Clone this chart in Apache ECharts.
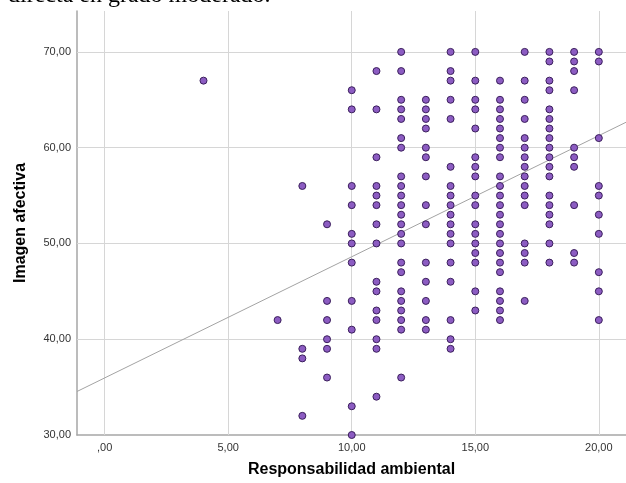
<!DOCTYPE html>
<html>
<head>
<meta charset="utf-8">
<script src="https://cdn.jsdelivr.net/npm/echarts@6/dist/echarts.min.js"></script>
<style>
  html, body { margin: 0; padding: 0; background: #fff; }
  #chart { width: 626px; height: 483px; }
</style>
</head>
<body>
<div id="chart"></div>
<script>
// Values: y values at each x (Responsabilidad ambiental)
const col4  = [67];
const col7  = [42];
const col8  = [56, 39, 38, 32];
const col9  = [52, 44, 42, 40, 39, 36];
const col10 = [66, 64, 56, 54, 51, 50, 48, 44, 41, 33, 30];
const col11 = [68, 64, 59, 56, 55, 54, 52, 50, 46, 45, 43, 42, 40, 39, 34];
const col12 = [70, 68, 65, 64, 63, 61, 60, 57, 56, 55, 54, 53, 52, 51, 50, 48, 47, 45, 44, 43, 42, 41, 36];
const col13 = [65, 64, 63, 62, 60, 59, 57, 54, 52, 48, 46, 44, 42, 41];
const col14 = [70, 68, 67, 65, 63, 58, 56, 55, 54, 53, 52, 51, 50, 48, 46, 42, 40, 39];
const col15 = [70, 67, 65, 64, 62, 59, 58, 57, 55, 54, 52, 51, 50, 49, 48, 45, 43];
const col16 = [67, 65, 64, 63, 62, 61, 60, 59, 57, 56, 55, 54, 53, 52, 51, 50, 49, 48, 47, 45, 44, 43, 42];
const col17 = [70, 67, 65, 63, 61, 60, 59, 58, 57, 56, 55, 54, 50, 49, 48, 44];
const col18 = [70, 69, 67, 66, 64, 63, 62, 61, 60, 59, 58, 57, 55, 54, 53, 52, 50, 48];
const col19 = [70, 69, 68, 66, 60, 59, 58, 54, 49, 48];
const col20 = [70, 69, 61, 56, 55, 53, 51, 47, 45, 42];

const xColumns = [4, 7, 8, 9, 10, 11, 12, 13, 14, 15, 16, 17, 18, 19, 20];
const yColumns = [col4, col7, col8, col9, col10, col11, col12, col13, col14, col15, col16, col17, col18, col19, col20];

const xTicks = [0, 5, 10, 15, 20];
const yTicks = [30, 40, 50, 60, 70];

// Fit line
const fitIntercept = 35.96;
const fitSlope = 1.265;

const xMin = -1.12, xMax = 21.1;
const yMin = 30, yMax = 74.27;

const points = [];
xColumns.forEach((x, i) => yColumns[i].forEach(y => points.push([x, y])));

const fitLine = [[xMin, fitIntercept + fitSlope * xMin], [xMax, fitIntercept + fitSlope * xMax]];

function fmt(v) {
  let s = Number(v).toFixed(2).replace('.', ',');
  if (s.startsWith('0,')) s = s.slice(1);
  return s;
}

const gridLineStyle = { color: '#d6d6d6', width: 1, type: 'solid' };

const chart = echarts.init(document.getElementById('chart'), null, { renderer: 'canvas' });
chart.setOption({
  animation: false,
  backgroundColor: '#fff',
  grid: { left: 77, top: 11, width: 551, height: 425, containLabel: false },
  graphic: [{
    type: 'text',
    x: 8, y: -4,
    z: 100,
    style: {
      text: 'directa en grado moderado.',
      font: '24px "Liberation Serif", "Times New Roman", serif',
      fill: '#000',
      verticalAlign: 'middle'
    }
  }],
  xAxis: {
    type: 'value', min: xMin, max: xMax,
    name: 'Responsabilidad ambiental', nameLocation: 'middle', nameGap: 27,
    nameTextStyle: { fontFamily: 'Liberation Sans, Arial', fontWeight: 'bold', fontSize: 16, color: '#000' },
    axisLine: { show: true, onZero: false, lineStyle: { color: '#a6a6a6', width: 1.5 } },
    axisTick: { show: false },
    splitLine: { show: false },
    axisLabel: { customValues: xTicks, formatter: fmt, fontFamily: 'Liberation Sans, Arial', fontSize: 11, color: '#333', margin: 7 }
  },
  yAxis: {
    type: 'value', min: yMin, max: yMax,
    name: 'Imagen afectiva', nameLocation: 'middle', nameGap: 48, nameRotate: 90,
    nameTextStyle: { fontFamily: 'Liberation Sans, Arial', fontWeight: 'bold', fontSize: 16, color: '#000' },
    axisLine: { show: true, onZero: false, lineStyle: { color: '#a6a6a6', width: 1.5 } },
    axisTick: { show: false },
    splitLine: { show: false },
    axisLabel: { customValues: yTicks, formatter: fmt, fontFamily: 'Liberation Sans, Arial', fontSize: 11, color: '#333', margin: 6 }
  },
  series: [
    {
      type: 'scatter', data: [], z: 1, silent: true,
      markLine: {
        silent: true, z: 1, symbol: ['none', 'none'], label: { show: false }, animation: false,
        lineStyle: gridLineStyle,
        data: xTicks.map(v => ({ xAxis: v })).concat(yTicks.filter(v => v !== yMin).map(v => ({ yAxis: v })))
      }
    },
    {
      type: 'line', data: fitLine, z: 2, symbol: 'none', silent: true,
      lineStyle: { color: '#a3a3a3', width: 1 }
    },
    {
      type: 'scatter', data: points, z: 3, symbol: 'circle', symbolSize: 7,
      itemStyle: { color: '#8c5cc2', borderColor: '#3b1f5c', borderWidth: 1, opacity: 1 },
      emphasis: { disabled: true }
    }
  ]
});
</script>
</body>
</html>
